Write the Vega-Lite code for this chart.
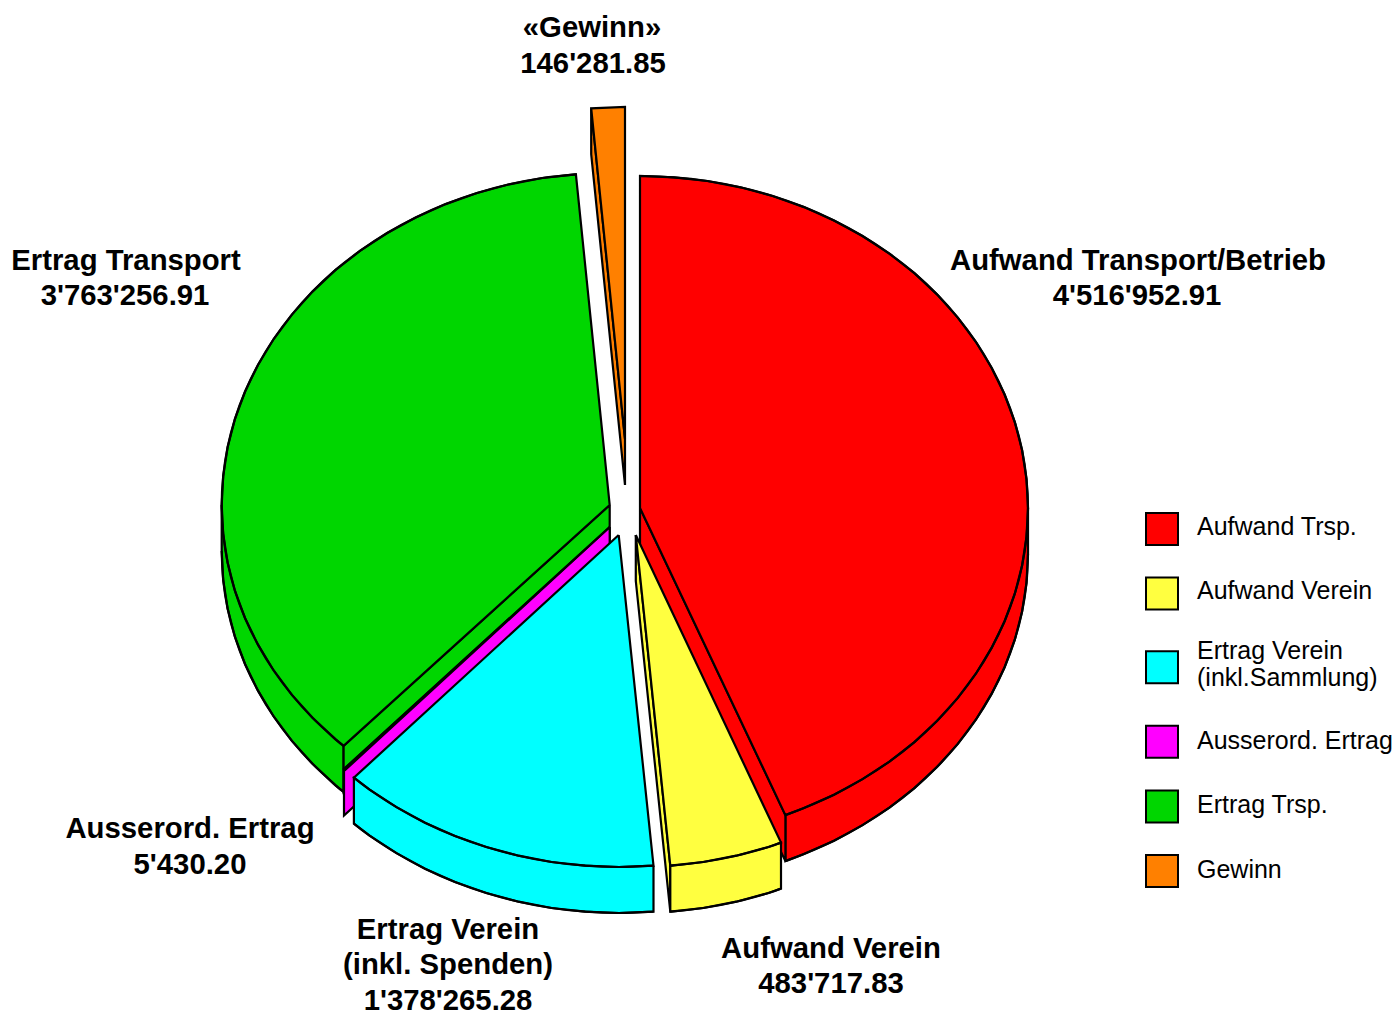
{"$schema":"https://vega.github.io/schema/vega-lite/v6.json","width":1397,"height":1012,"autosize":"none","padding":0,"background":"white","view":{"stroke":null},
"datasets":{"shapes":[
{"series":"Gewinn","part":"o_cut","k":0,"x":625,"y":439},{"series":"Gewinn","part":"o_cut","k":1,"x":591.2,"y":108.3},{"series":"Gewinn","part":"o_cut","k":2,"x":591.2,"y":154.3},{"series":"Gewinn","part":"o_cut","k":3,"x":625,"y":485},{"series":"Gewinn","part":"o_cut","k":4,"x":625,"y":439},
{"series":"Gewinn","part":"o_top","k":0,"x":625,"y":439},{"series":"Gewinn","part":"o_top","k":1,"x":625,"y":107},{"series":"Gewinn","part":"o_top","k":2,"x":591.2,"y":108.3},{"series":"Gewinn","part":"o_top","k":3,"x":625,"y":439},
{"series":"Ertrag Trsp.","part":"g_wall","k":0,"x":221.7,"y":505},{"series":"Ertrag Trsp.","part":"g_wall","k":1,"x":221.7,"y":551},{"series":"Ertrag Trsp.","part":"g_wall","k":2,"x":223.2,"y":579.8},{"series":"Ertrag Trsp.","part":"g_wall","k":3,"x":227.6,"y":608.5},{"series":"Ertrag Trsp.","part":"g_wall","k":4,"x":234.9,"y":636.7},{"series":"Ertrag Trsp.","part":"g_wall","k":5,"x":245.1,"y":664.2},{"series":"Ertrag Trsp.","part":"g_wall","k":6,"x":258.1,"y":690.9},{"series":"Ertrag Trsp.","part":"g_wall","k":7,"x":273.7,"y":716.5},{"series":"Ertrag Trsp.","part":"g_wall","k":8,"x":291.9,"y":740.9},{"series":"Ertrag Trsp.","part":"g_wall","k":9,"x":312.5,"y":763.8},{"series":"Ertrag Trsp.","part":"g_wall","k":10,"x":335.3,"y":785.1},{"series":"Ertrag Trsp.","part":"g_wall","k":11,"x":343.6,"y":791.9},{"series":"Ertrag Trsp.","part":"g_wall","k":12,"x":343.6,"y":745.9},{"series":"Ertrag Trsp.","part":"g_wall","k":13,"x":221.7,"y":505},
{"series":"Ertrag Trsp.","part":"g_cut","k":0,"x":609.7,"y":505},{"series":"Ertrag Trsp.","part":"g_cut","k":1,"x":343.6,"y":745.9},{"series":"Ertrag Trsp.","part":"g_cut","k":2,"x":343.6,"y":791.9},{"series":"Ertrag Trsp.","part":"g_cut","k":3,"x":609.7,"y":551},{"series":"Ertrag Trsp.","part":"g_cut","k":4,"x":609.7,"y":505},
{"series":"Ertrag Trsp.","part":"g_top","k":0,"x":609.7,"y":505},{"series":"Ertrag Trsp.","part":"g_top","k":1,"x":575.9,"y":174.3},{"series":"Ertrag Trsp.","part":"g_top","k":2,"x":542.3,"y":178},{"series":"Ertrag Trsp.","part":"g_top","k":3,"x":509.3,"y":184.3},{"series":"Ertrag Trsp.","part":"g_top","k":4,"x":477,"y":193},{"series":"Ertrag Trsp.","part":"g_top","k":5,"x":445.7,"y":204.1},{"series":"Ertrag Trsp.","part":"g_top","k":6,"x":415.7,"y":217.5},{"series":"Ertrag Trsp.","part":"g_top","k":7,"x":387.2,"y":233},{"series":"Ertrag Trsp.","part":"g_top","k":8,"x":360.3,"y":250.7},{"series":"Ertrag Trsp.","part":"g_top","k":9,"x":335.3,"y":270.2},{"series":"Ertrag Trsp.","part":"g_top","k":10,"x":312.5,"y":291.6},{"series":"Ertrag Trsp.","part":"g_top","k":11,"x":291.9,"y":314.6},{"series":"Ertrag Trsp.","part":"g_top","k":12,"x":273.7,"y":339},{"series":"Ertrag Trsp.","part":"g_top","k":13,"x":258.1,"y":364.7},{"series":"Ertrag Trsp.","part":"g_top","k":14,"x":245.1,"y":391.5},{"series":"Ertrag Trsp.","part":"g_top","k":15,"x":234.9,"y":419.1},{"series":"Ertrag Trsp.","part":"g_top","k":16,"x":227.6,"y":447.3},{"series":"Ertrag Trsp.","part":"g_top","k":17,"x":223.2,"y":476.1},{"series":"Ertrag Trsp.","part":"g_top","k":18,"x":221.7,"y":505},{"series":"Ertrag Trsp.","part":"g_top","k":19,"x":223.2,"y":533.8},{"series":"Ertrag Trsp.","part":"g_top","k":20,"x":227.6,"y":562.5},{"series":"Ertrag Trsp.","part":"g_top","k":21,"x":234.9,"y":590.7},{"series":"Ertrag Trsp.","part":"g_top","k":22,"x":245.1,"y":618.2},{"series":"Ertrag Trsp.","part":"g_top","k":23,"x":258.1,"y":644.9},{"series":"Ertrag Trsp.","part":"g_top","k":24,"x":273.7,"y":670.5},{"series":"Ertrag Trsp.","part":"g_top","k":25,"x":291.9,"y":694.9},{"series":"Ertrag Trsp.","part":"g_top","k":26,"x":312.5,"y":717.8},{"series":"Ertrag Trsp.","part":"g_top","k":27,"x":335.3,"y":739.1},{"series":"Ertrag Trsp.","part":"g_top","k":28,"x":343.6,"y":745.9},{"series":"Ertrag Trsp.","part":"g_top","k":29,"x":609.7,"y":505},
{"series":"Aufwand Trsp.","part":"r_wall","k":0,"x":1028,"y":508},{"series":"Aufwand Trsp.","part":"r_wall","k":1,"x":1028,"y":554},{"series":"Aufwand Trsp.","part":"r_wall","k":2,"x":1026.5,"y":582.8},{"series":"Aufwand Trsp.","part":"r_wall","k":3,"x":1022.1,"y":611.5},{"series":"Aufwand Trsp.","part":"r_wall","k":4,"x":1014.8,"y":639.7},{"series":"Aufwand Trsp.","part":"r_wall","k":5,"x":1004.6,"y":667.2},{"series":"Aufwand Trsp.","part":"r_wall","k":6,"x":991.6,"y":693.9},{"series":"Aufwand Trsp.","part":"r_wall","k":7,"x":976,"y":719.5},{"series":"Aufwand Trsp.","part":"r_wall","k":8,"x":957.8,"y":743.9},{"series":"Aufwand Trsp.","part":"r_wall","k":9,"x":937.2,"y":766.8},{"series":"Aufwand Trsp.","part":"r_wall","k":10,"x":914.4,"y":788.1},{"series":"Aufwand Trsp.","part":"r_wall","k":11,"x":889.4,"y":807.6},{"series":"Aufwand Trsp.","part":"r_wall","k":12,"x":862.5,"y":825.1},{"series":"Aufwand Trsp.","part":"r_wall","k":13,"x":834,"y":840.7},{"series":"Aufwand Trsp.","part":"r_wall","k":14,"x":804,"y":854},{"series":"Aufwand Trsp.","part":"r_wall","k":15,"x":785.4,"y":861.1},{"series":"Aufwand Trsp.","part":"r_wall","k":16,"x":785.4,"y":815.1},{"series":"Aufwand Trsp.","part":"r_wall","k":17,"x":1028,"y":508},
{"series":"Aufwand Trsp.","part":"r_cut","k":0,"x":640,"y":508},{"series":"Aufwand Trsp.","part":"r_cut","k":1,"x":785.4,"y":815.1},{"series":"Aufwand Trsp.","part":"r_cut","k":2,"x":785.4,"y":861.1},{"series":"Aufwand Trsp.","part":"r_cut","k":3,"x":640,"y":554},{"series":"Aufwand Trsp.","part":"r_cut","k":4,"x":640,"y":508},
{"series":"Aufwand Trsp.","part":"r_top","k":0,"x":640,"y":508},{"series":"Aufwand Trsp.","part":"r_top","k":1,"x":640,"y":176},{"series":"Aufwand Trsp.","part":"r_top","k":2,"x":673.8,"y":177.3},{"series":"Aufwand Trsp.","part":"r_top","k":3,"x":707.4,"y":181},{"series":"Aufwand Trsp.","part":"r_top","k":4,"x":740.4,"y":187.3},{"series":"Aufwand Trsp.","part":"r_top","k":5,"x":772.7,"y":196},{"series":"Aufwand Trsp.","part":"r_top","k":6,"x":804,"y":207.1},{"series":"Aufwand Trsp.","part":"r_top","k":7,"x":834,"y":220.5},{"series":"Aufwand Trsp.","part":"r_top","k":8,"x":862.5,"y":236},{"series":"Aufwand Trsp.","part":"r_top","k":9,"x":889.4,"y":253.7},{"series":"Aufwand Trsp.","part":"r_top","k":10,"x":914.4,"y":273.2},{"series":"Aufwand Trsp.","part":"r_top","k":11,"x":937.2,"y":294.6},{"series":"Aufwand Trsp.","part":"r_top","k":12,"x":957.8,"y":317.6},{"series":"Aufwand Trsp.","part":"r_top","k":13,"x":976,"y":342},{"series":"Aufwand Trsp.","part":"r_top","k":14,"x":991.6,"y":367.7},{"series":"Aufwand Trsp.","part":"r_top","k":15,"x":1004.6,"y":394.5},{"series":"Aufwand Trsp.","part":"r_top","k":16,"x":1014.8,"y":422.1},{"series":"Aufwand Trsp.","part":"r_top","k":17,"x":1022.1,"y":450.3},{"series":"Aufwand Trsp.","part":"r_top","k":18,"x":1026.5,"y":479.1},{"series":"Aufwand Trsp.","part":"r_top","k":19,"x":1028,"y":508},{"series":"Aufwand Trsp.","part":"r_top","k":20,"x":1026.5,"y":536.8},{"series":"Aufwand Trsp.","part":"r_top","k":21,"x":1022.1,"y":565.5},{"series":"Aufwand Trsp.","part":"r_top","k":22,"x":1014.8,"y":593.7},{"series":"Aufwand Trsp.","part":"r_top","k":23,"x":1004.6,"y":621.2},{"series":"Aufwand Trsp.","part":"r_top","k":24,"x":991.6,"y":647.9},{"series":"Aufwand Trsp.","part":"r_top","k":25,"x":976,"y":673.5},{"series":"Aufwand Trsp.","part":"r_top","k":26,"x":957.8,"y":697.9},{"series":"Aufwand Trsp.","part":"r_top","k":27,"x":937.2,"y":720.8},{"series":"Aufwand Trsp.","part":"r_top","k":28,"x":914.4,"y":742.1},{"series":"Aufwand Trsp.","part":"r_top","k":29,"x":889.4,"y":761.6},{"series":"Aufwand Trsp.","part":"r_top","k":30,"x":862.5,"y":779.1},{"series":"Aufwand Trsp.","part":"r_top","k":31,"x":834,"y":794.7},{"series":"Aufwand Trsp.","part":"r_top","k":32,"x":804,"y":808},{"series":"Aufwand Trsp.","part":"r_top","k":33,"x":785.4,"y":815.1},{"series":"Aufwand Trsp.","part":"r_top","k":34,"x":640,"y":508},
{"series":"Ausserord. Ertrag","part":"m_cut","k":0,"x":609.7,"y":527},{"series":"Ausserord. Ertrag","part":"m_cut","k":1,"x":344,"y":769},{"series":"Ausserord. Ertrag","part":"m_cut","k":2,"x":344,"y":815.5},{"series":"Ausserord. Ertrag","part":"m_cut","k":3,"x":609.7,"y":573},{"series":"Ausserord. Ertrag","part":"m_cut","k":4,"x":609.7,"y":527},
{"series":"Ausserord. Ertrag","part":"m_top","k":0,"x":609.7,"y":527},{"series":"Ausserord. Ertrag","part":"m_top","k":1,"x":344,"y":769},{"series":"Ausserord. Ertrag","part":"m_top","k":2,"x":345.3,"y":769.9},{"series":"Ausserord. Ertrag","part":"m_top","k":3,"x":609.7,"y":527},
{"series":"Ertrag Verein (inkl.Sammlung)","part":"c_wall","k":0,"x":653.5,"y":865.7},{"series":"Ertrag Verein (inkl.Sammlung)","part":"c_wall","k":1,"x":653.5,"y":911.7},{"series":"Ertrag Verein (inkl.Sammlung)","part":"c_wall","k":2,"x":619,"y":913},{"series":"Ertrag Verein (inkl.Sammlung)","part":"c_wall","k":3,"x":585.2,"y":911.7},{"series":"Ertrag Verein (inkl.Sammlung)","part":"c_wall","k":4,"x":551.6,"y":908},{"series":"Ertrag Verein (inkl.Sammlung)","part":"c_wall","k":5,"x":518.6,"y":901.7},{"series":"Ertrag Verein (inkl.Sammlung)","part":"c_wall","k":6,"x":486.3,"y":893},{"series":"Ertrag Verein (inkl.Sammlung)","part":"c_wall","k":7,"x":455,"y":882},{"series":"Ertrag Verein (inkl.Sammlung)","part":"c_wall","k":8,"x":425,"y":868.7},{"series":"Ertrag Verein (inkl.Sammlung)","part":"c_wall","k":9,"x":396.5,"y":853.1},{"series":"Ertrag Verein (inkl.Sammlung)","part":"c_wall","k":10,"x":369.6,"y":835.6},{"series":"Ertrag Verein (inkl.Sammlung)","part":"c_wall","k":11,"x":353.9,"y":823.7},{"series":"Ertrag Verein (inkl.Sammlung)","part":"c_wall","k":12,"x":353.9,"y":777.7},{"series":"Ertrag Verein (inkl.Sammlung)","part":"c_wall","k":13,"x":653.5,"y":865.7},
{"series":"Ertrag Verein (inkl.Sammlung)","part":"c_top","k":0,"x":618.7,"y":535},{"series":"Ertrag Verein (inkl.Sammlung)","part":"c_top","k":1,"x":653.5,"y":865.7},{"series":"Ertrag Verein (inkl.Sammlung)","part":"c_top","k":2,"x":619,"y":867},{"series":"Ertrag Verein (inkl.Sammlung)","part":"c_top","k":3,"x":585.2,"y":865.7},{"series":"Ertrag Verein (inkl.Sammlung)","part":"c_top","k":4,"x":551.6,"y":862},{"series":"Ertrag Verein (inkl.Sammlung)","part":"c_top","k":5,"x":518.6,"y":855.7},{"series":"Ertrag Verein (inkl.Sammlung)","part":"c_top","k":6,"x":486.3,"y":847},{"series":"Ertrag Verein (inkl.Sammlung)","part":"c_top","k":7,"x":455,"y":836},{"series":"Ertrag Verein (inkl.Sammlung)","part":"c_top","k":8,"x":425,"y":822.7},{"series":"Ertrag Verein (inkl.Sammlung)","part":"c_top","k":9,"x":396.5,"y":807.1},{"series":"Ertrag Verein (inkl.Sammlung)","part":"c_top","k":10,"x":369.6,"y":789.6},{"series":"Ertrag Verein (inkl.Sammlung)","part":"c_top","k":11,"x":353.9,"y":777.7},{"series":"Ertrag Verein (inkl.Sammlung)","part":"c_top","k":12,"x":618.7,"y":535},
{"series":"Aufwand Verein","part":"y_cut","k":0,"x":635.8,"y":535},{"series":"Aufwand Verein","part":"y_cut","k":1,"x":670.3,"y":865.7},{"series":"Aufwand Verein","part":"y_cut","k":2,"x":670.3,"y":911.7},{"series":"Aufwand Verein","part":"y_cut","k":3,"x":635.8,"y":581},{"series":"Aufwand Verein","part":"y_cut","k":4,"x":635.8,"y":535},
{"series":"Aufwand Verein","part":"y_wall","k":0,"x":670.3,"y":865.7},{"series":"Aufwand Verein","part":"y_wall","k":1,"x":670.3,"y":911.7},{"series":"Aufwand Verein","part":"y_wall","k":2,"x":703.2,"y":908},{"series":"Aufwand Verein","part":"y_wall","k":3,"x":736.2,"y":901.7},{"series":"Aufwand Verein","part":"y_wall","k":4,"x":768.5,"y":893},{"series":"Aufwand Verein","part":"y_wall","k":5,"x":781,"y":888.6},{"series":"Aufwand Verein","part":"y_wall","k":6,"x":781,"y":842.6},{"series":"Aufwand Verein","part":"y_wall","k":7,"x":670.3,"y":865.7},
{"series":"Aufwand Verein","part":"y_top","k":0,"x":635.8,"y":535},{"series":"Aufwand Verein","part":"y_top","k":1,"x":781,"y":842.6},{"series":"Aufwand Verein","part":"y_top","k":2,"x":768.5,"y":847},{"series":"Aufwand Verein","part":"y_top","k":3,"x":736.2,"y":855.7},{"series":"Aufwand Verein","part":"y_top","k":4,"x":703.2,"y":862},{"series":"Aufwand Verein","part":"y_top","k":5,"x":670.3,"y":865.7},{"series":"Aufwand Verein","part":"y_top","k":6,"x":635.8,"y":535}
],
"labels":[
{"t":"«Gewinn»","x":592,"y":28},{"t":"146'281.85","x":593,"y":64},
{"t":"Ertrag Transport","x":126,"y":261},{"t":"3'763'256.91","x":125,"y":296},
{"t":"Aufwand Transport/Betrieb","x":1138,"y":261},{"t":"4'516'952.91","x":1137,"y":296},
{"t":"Ausserord. Ertrag","x":190,"y":829},{"t":"5'430.20","x":190,"y":865},
{"t":"Ertrag Verein","x":448,"y":930},{"t":"(inkl. Spenden)","x":448,"y":965},{"t":"1'378'265.28","x":448,"y":1001},
{"t":"Aufwand Verein","x":831,"y":949},{"t":"483'717.83","x":831,"y":984}
]},
"layer":[
{"data":{"name":"shapes"},"mark":{"type":"line","stroke":"black","strokeWidth":2.2,"strokeJoin":"miter"},
"encoding":{"x":{"field":"x","type":"quantitative","axis":null,"scale":{"domain":[0,1397],"nice":false,"zero":false}},
"y":{"field":"y","type":"quantitative","axis":null,"scale":{"domain":[1012,0],"nice":false,"zero":false}},
"detail":{"field":"part"},"order":{"field":"k","type":"quantitative"},
"fill":{"field":"series","type":"nominal","scale":{"domain":["Aufwand Trsp.","Aufwand Verein","Ertrag Verein (inkl.Sammlung)","Ausserord. Ertrag","Ertrag Trsp.","Gewinn"],"range":["#ff0000","#ffff40","#00ffff","#ff00ff","#00d600","#ff8000"]},
"legend":{"title":null,"orient":"none","legendX":1145,"legendY":511,"symbolType":"square","symbolSize":1024,"symbolStrokeColor":"black","symbolStrokeWidth":2,"symbolOpacity":1,"labelFont":"Liberation Sans","labelFontSize":25,"labelColor":"black","labelLimit":300,"labelOffset":18,"rowPadding":24.6,"padding":0,"labelExpr":"datum.label=='Ertrag Verein (inkl.Sammlung)'?['Ertrag Verein','(inkl.Sammlung)']:datum.label",
"encoding":{"symbols":{"y":{"value":{"signal":"datum.value=='Ertrag Verein (inkl.Sammlung)'?29:datum.value=='Ausserord. Ertrag'?26:(datum.value=='Ertrag Trsp.'||datum.value=='Gewinn')?19:18"}}},"labels":{"dy":{"value":{"signal":"datum.value=='Ertrag Verein (inkl.Sammlung)'?-4:datum.value=='Ausserord. Ertrag'?8:(datum.value=='Ertrag Trsp.'||datum.value=='Gewinn')?1:-1.5"}}}}}}}},
{"data":{"name":"shapes"},"transform":[{"filter":"(datum.k>=1)&&((datum.part=='g_wall'&&datum.k<=11)||(datum.part=='g_top'&&datum.k<=28)||(datum.part=='r_wall'&&datum.k<=15)||(datum.part=='r_top'&&datum.k<=33)||(datum.part=='c_wall'&&datum.k<=11)||(datum.part=='c_top'&&datum.k<=11)||(datum.part=='y_wall'&&datum.k<=5)||(datum.part=='y_top'&&datum.k<=5))"}],
"mark":{"type":"line","stroke":"black","strokeWidth":2.2,"interpolate":"cardinal","tension":0},
"encoding":{"x":{"field":"x","type":"quantitative"},"y":{"field":"y","type":"quantitative"},"detail":{"field":"part"},"order":{"field":"k","type":"quantitative"}}},
{"data":{"name":"labels"},"mark":{"type":"text","font":"Liberation Sans","fontWeight":"bold","fontSize":29.3,"color":"black","baseline":"middle","align":"center"},
"encoding":{"x":{"field":"x","type":"quantitative"},"y":{"field":"y","type":"quantitative"},"text":{"field":"t"}}}
]}
